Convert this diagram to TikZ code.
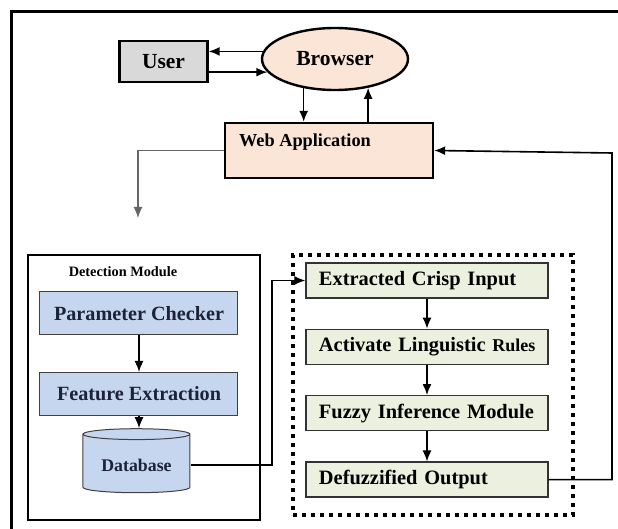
\documentclass[tikz,border=0pt]{standalone}
\usepackage{fontspec}
\setmainfont{Liberation Serif}
\usetikzlibrary{shapes.geometric, arrows, arrows.meta, positioning}
\definecolor{usergray}{RGB}{217,217,217}
\definecolor{peach}{RGB}{251,229,214}
\definecolor{detblue}{RGB}{198,214,238}
\definecolor{fuzgreen}{RGB}{235,241,222}
\definecolor{inkblue}{RGB}{28,34,56}
\tikzstyle{actor} = [rectangle, draw=black, line width=1.2pt, fill=usergray, minimum width=44pt, minimum height=20.5pt, font=\fontsize{10.75}{12}\selectfont\bfseries]
\tikzstyle{client} = [ellipse, draw=black, line width=1.2pt, fill=peach, minimum width=73pt, minimum height=31pt, inner sep=0pt, font=\fontsize{10.75}{12}\selectfont\bfseries]
\tikzstyle{server} = [rectangle, draw=black, line width=1.2pt, fill=peach, minimum width=104pt, minimum height=27.5pt]
\tikzstyle{detect} = [rectangle, draw=black!75, line width=0.5pt, fill=detblue, minimum width=99pt, minimum height=21.5pt, text=inkblue, font=\fontsize{10.1}{12}\selectfont\bfseries]
\tikzstyle{fuzzy} = [rectangle, draw=black!80, line width=0.7pt, fill=fuzgreen, text width=108pt, inner xsep=6.5pt, minimum height=17.5pt, align=left, font=\fontsize{10.2}{12}\selectfont\bfseries]
\tikzstyle{arrow} = [line width=0.8pt,->,>={Latex[length=5.5pt,width=4.5pt]}]

\begin{document}
\begin{tikzpicture}[x=0.5pt, y=-0.5pt, node distance=15pt]
        \useasboundingbox (0,0) rectangle (618,529);
        % Frame
        \draw [line width=1.5pt] (12,529) -- (12,11.5) -- (618,11.5);

        % Nodes
        \node (user) [actor] at (163.5,61.5) {User};
        \node (browser) [client] at (335,59) {Browser};
        \node (webapp) [server, label={[anchor=north west, inner sep=0pt, xshift=7.5pt, yshift=-6pt, font=\fontsize{9.15}{11}\selectfont\bfseries]north west:Web Application}] at (329,150.5) {};

        \node (detmod) [rectangle, draw=black, line width=1.1pt, minimum width=116pt, minimum height=132.5pt] at (144,387.5) {};
        \node (dmtitle) [font=\fontsize{7.15}{9}\selectfont\bfseries] at (123,272) {Detection Module};
        \node (param) [detect] at (139,313.5) {Parameter Checker};
        \node (feature) [detect] at (139,394) {Feature Extraction};
        \node (db) [cylinder, shape border rotate=90, aspect=0.13, draw=black!75, line width=0.5pt, fill=detblue, minimum width=53.5pt, minimum height=32pt, text=inkblue, font=\fontsize{8.9}{10}\selectfont\bfseries] at (136.5,465) {Database};

        \node (fuzzframe) [rectangle, draw=black, line width=2pt, dash pattern=on 2pt off 2.5pt, minimum width=140pt, minimum height=130pt] at (433,385) {};
        \node (crisp) [fuzzy] at (427,280.5) {Extracted Crisp Input};
        \node (rules) [fuzzy, below=of crisp] {\mbox{Activate Linguistic {\fontsize{9}{11}\selectfont Rules}}};
        \node (infer) [fuzzy, below=of rules] {Fuzzy Inference Module};
        \node (defuzz) [fuzzy, below=of infer] {Defuzzified Output};

        \coordinate (dmin) at (138,218);
        \coordinate (jog) at (272,0);
        \coordinate (loop) at (612,153);

        % Connections
        \draw [arrow] (browser.174) -- (browser.174 -| user.east);
        \draw [arrow] (user.east |- browser.191) -- (browser.191);
        \draw [arrow] (browser.223) -- (browser.223 |- webapp.north);
        \draw [arrow] (webapp.north -| browser.319) -- (browser.319);
        \draw [arrow, line width=0.6pt, black!60] (webapp.west) -| (dmin);
        \draw [arrow] (param) -- (feature);
        \draw [arrow] (feature.south) -- (feature.south |- db.north);
        \draw [arrow, line width=0.6pt] (db.east) -- (db.east -| jog) |- (crisp.west);
        \draw [arrow] (crisp) -- (rules);
        \draw [arrow] (rules) -- (infer);
        \draw [arrow] (infer) -- (defuzz);
        \draw [arrow] (defuzz.east) -| (loop) -- (webapp.east); % Return loop
    \end{tikzpicture}
\end{document}
